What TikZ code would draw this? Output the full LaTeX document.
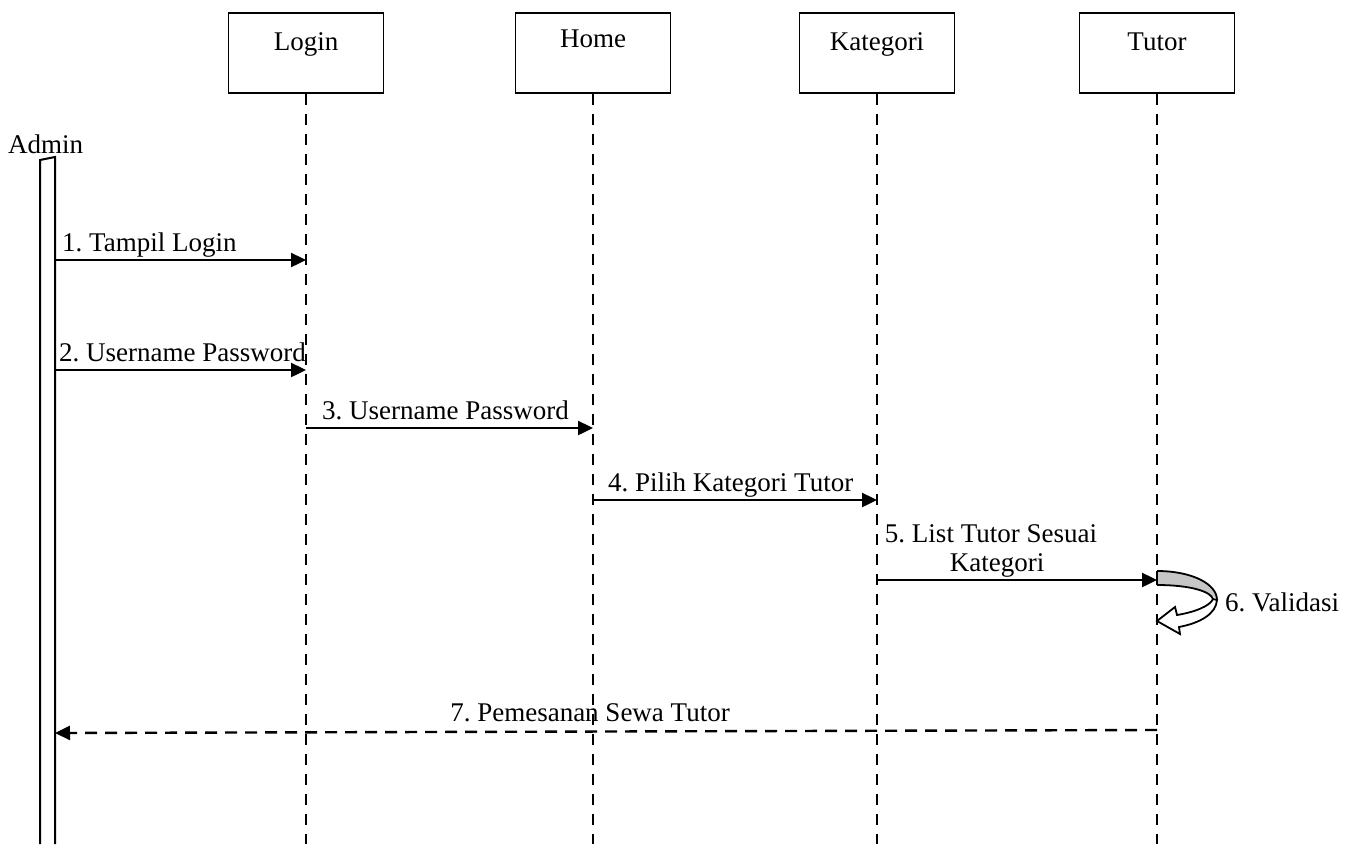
\documentclass[tikz,border=0pt]{standalone}
\usepackage{fontspec}
\setmainfont{Liberation Serif}
\usetikzlibrary{arrows.meta}
\frenchspacing
\begin{document}
\begin{tikzpicture}[x=1pt,y=-1pt,
  every node/.style={font=\fontsize{27}{31}\selectfont},
  headbox/.style={draw,line width=1.8pt,minimum width=155pt,minimum height=80pt,anchor=north,inner sep=0pt},
  lifeline/.style={line width=2.6pt,dash pattern=on 11pt off 9pt},
  msg/.style={line width=2.4pt,-{Triangle[length=15pt,width=14pt]}},
  ret/.style={line width=2.4pt,dash pattern=on 12pt off 8pt,-{Triangle[length=15pt,width=14pt]}},
  lbl/.style={anchor=base west,inner sep=0pt}]
\useasboundingbox (0,0) rectangle (1362,844);
% heads
\node[headbox] (login) at (306,12) {};
\node[headbox] (home) at (593,12) {};
\node[headbox] (kat) at (877,12) {};
\node[headbox] (tutor) at (1157,12) {};
\node[anchor=base,inner sep=0pt] (tlogin) at (306,50) {Login};
\node[anchor=base,inner sep=0pt] (thome) at (593,47) {Home};
\node[anchor=base,inner sep=0pt] (tkat) at (877,50) {Kategori};
\node[anchor=base,inner sep=0pt] (ttutor) at (1157,50) {Tutor};
% lifeline ends
\coordinate (loginE) at (306,844);
\coordinate (homeE) at (593,844);
\coordinate (katE) at (877,844);
\coordinate (tutorE) at (1157,844);
\draw[lifeline] (login.south) -- (loginE);
\draw[lifeline] (home.south) -- (homeE);
\draw[lifeline] (kat.south) -- (katE);
\draw[lifeline] (tutor.south) -- (tutorE);
% Admin
\node[anchor=base west,inner sep=0pt] (admin) at (8,153) {Admin};
\coordinate (adL) at (40,160);
\coordinate (adR) at (55,157);
\draw[line width=2pt] (40,844) -- (adL) -- (adR) -- (55,844);
% messages
\coordinate (a1) at (55,260); \coordinate (l1) at (306,260);
\draw[msg] (a1) -- (l1);
\node[lbl] (t1) at (62,251) {1. Tampil Login};
\coordinate (a2) at (55,370); \coordinate (l2) at (306,370);
\draw[msg] (a2) -- (l2);
\node[lbl] (t2) at (59,361) {2. Username Password};
\coordinate (l3) at (306,428); \coordinate (h3) at (593,428);
\draw[msg] (l3) -- (h3);
\node[lbl] (t3) at (322,419) {3. Username Password};
\coordinate (h4) at (593,500); \coordinate (k4) at (877,500);
\draw[msg] (h4) -- (k4);
\node[lbl] (t4) at (608,491) {4. Pilih Kategori Tutor};
\coordinate (k5) at (877,580); \coordinate (u5) at (1157,580);
\draw[msg] (k5) -- (u5);
\node[anchor=base,inner sep=0pt] (t5a) at (991,542) {5. List Tutor Sesuai};
\node[anchor=base,inner sep=0pt] (t5b) at (997,571) {Kategori};
% self call 6
\fill[gray!45] (1157,571) .. controls (1192,571) and (1217,584) .. (1217,600)
   .. controls (1213,593) and (1192,585) .. (1157,585) -- cycle;
\draw[line width=1.8pt] (1157,571) .. controls (1192,571) and (1217,584) .. (1217,600);
\draw[line width=1.8pt] (1157,585) .. controls (1192,585) and (1211,592) .. (1213,599);
\draw[line width=1.8pt,fill=white,line join=miter] (1217,600) .. controls (1216,614) and (1200,623) .. (1179,627)
   -- (1180,634) -- (1157,621) -- (1175,607) -- (1177,615)
   .. controls (1195,612) and (1210,606) .. (1213,599) -- cycle;
\draw[line width=1.8pt] (1157,571) -- (1157,585);
\node[lbl] (t6) at (1225,611) {6. Validasi};
% return 7
\coordinate (u7) at (1157,730); \coordinate (a7) at (55,733);
\draw[ret] (u7) -- (a7);
\node[anchor=base,inner sep=0pt] (t7) at (590,721) {7. Pemesanan Sewa Tutor};
\end{tikzpicture}
\end{document}
